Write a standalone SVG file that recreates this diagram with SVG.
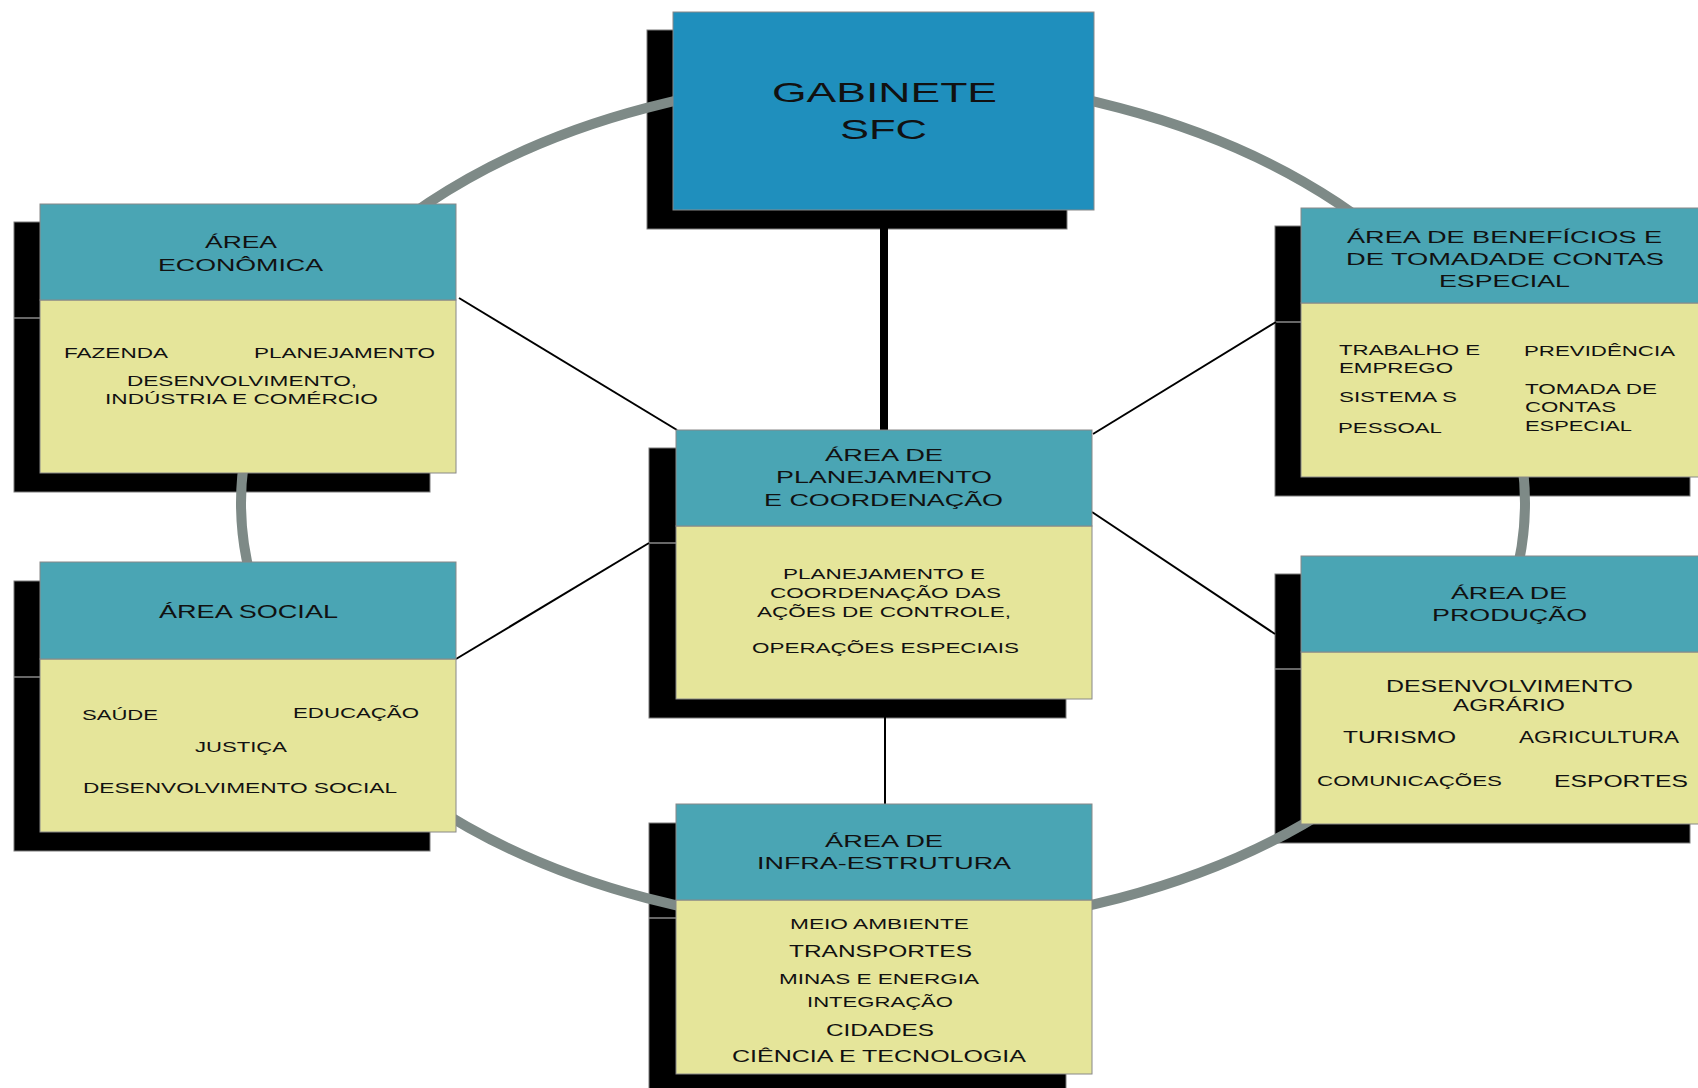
<svg xmlns="http://www.w3.org/2000/svg" width="1698" height="1088" viewBox="0 0 1698 1088">
<style>
.shadow{fill:#000;stroke:#7a7a7a;stroke-width:1}
.head{fill:#4aa5b4;stroke:#888;stroke-width:1}
.body{fill:#e5e59a;stroke:#888;stroke-width:1}
.gab{fill:#1f8fbd;stroke:#888;stroke-width:1}
.sep{stroke:#8a8a8a;stroke-width:1.5}
.conn{stroke:#000;stroke-width:2;fill:none}
.ring{fill:none;stroke:#7e8a87;stroke-width:10}
text{font-family:"Liberation Sans",Arial,sans-serif;fill:#111}
.h{font-size:17px}
.b{font-size:15px}
</style>
<rect width="1698" height="1088" fill="#fff"/>
<g id="shadows">
<rect class="shadow" x="647" y="30" width="420" height="199"/>
<rect class="shadow" x="14" y="222" width="416" height="270"/>
<line class="sep" x1="14" y1="318" x2="40" y2="318"/>
<rect class="shadow" x="14" y="581" width="416" height="270"/>
<line class="sep" x1="14" y1="677" x2="40" y2="677"/>
<rect class="shadow" x="649" y="448" width="417" height="270"/>
<line class="sep" x1="649" y1="543" x2="676" y2="543"/>
<rect class="shadow" x="649" y="823" width="417" height="280"/>
<line class="sep" x1="649" y1="918" x2="676" y2="918"/>
<rect class="shadow" x="1275" y="226" width="415" height="270"/>
<line class="sep" x1="1275" y1="322" x2="1301" y2="322"/>
<rect class="shadow" x="1275" y="574" width="415" height="269"/>
<line class="sep" x1="1275" y1="669" x2="1301" y2="669"/>
</g>
<g id="connectors">
<ellipse class="ring" cx="883" cy="503" rx="642" ry="425"/>
<line x1="884" y1="205" x2="884" y2="432" stroke="#000" stroke-width="8"/>
<line class="conn" x1="885" y1="698" x2="885" y2="806"/>
<line class="conn" x1="459" y1="298" x2="677" y2="430"/>
<line class="conn" x1="456" y1="659" x2="649" y2="543"/>
<line class="conn" x1="1093" y1="434" x2="1276" y2="322"/>
<line class="conn" x1="1092" y1="512" x2="1275" y2="634"/>
</g>
<g id="gabinete">
<rect class="gab" x="673" y="12" width="421" height="198"/>
<text x="772" y="102" font-size="28" textLength="225" lengthAdjust="spacingAndGlyphs">GABINETE</text>
<text x="840" y="139" font-size="28" textLength="87" lengthAdjust="spacingAndGlyphs">SFC</text>
</g>
<g id="area-economica">
<rect class="body" x="40" y="300" width="416" height="173"/>
<rect class="head" x="40" y="204" width="416" height="96"/>
<text class="h" x="205" y="248" textLength="72" lengthAdjust="spacingAndGlyphs">ÁREA</text>
<text class="h" x="158" y="271" textLength="165" lengthAdjust="spacingAndGlyphs">ECONÔMICA</text>
<text class="b" x="64" y="358" textLength="104" lengthAdjust="spacingAndGlyphs">FAZENDA</text>
<text class="b" x="254" y="358" textLength="181" lengthAdjust="spacingAndGlyphs">PLANEJAMENTO</text>
<text class="b" x="127" y="386" textLength="230" lengthAdjust="spacingAndGlyphs">DESENVOLVIMENTO,</text>
<text class="b" x="105" y="404" textLength="273" lengthAdjust="spacingAndGlyphs">INDÚSTRIA E COMÉRCIO</text>
</g>
<g id="area-social">
<rect class="body" x="40" y="659" width="416" height="173"/>
<rect class="head" x="40" y="562" width="416" height="97"/>
<text x="159" y="618" font-size="18" textLength="179" lengthAdjust="spacingAndGlyphs">ÁREA SOCIAL</text>
<text class="b" x="82" y="720" textLength="76" lengthAdjust="spacingAndGlyphs">SAÚDE</text>
<text class="b" x="293" y="718" textLength="126" lengthAdjust="spacingAndGlyphs">EDUCAÇÃO</text>
<text class="b" x="195" y="752" textLength="92" lengthAdjust="spacingAndGlyphs">JUSTIÇA</text>
<text class="b" x="83" y="793" textLength="314" lengthAdjust="spacingAndGlyphs">DESENVOLVIMENTO SOCIAL</text>
</g>
<g id="area-planejamento">
<rect class="body" x="676" y="526" width="416" height="173"/>
<rect class="head" x="676" y="430" width="416" height="96"/>
<text x="825" y="461" font-size="16" textLength="118" lengthAdjust="spacingAndGlyphs">ÁREA DE</text>
<text x="776" y="483" font-size="16" textLength="216" lengthAdjust="spacingAndGlyphs">PLANEJAMENTO</text>
<text x="764" y="506" font-size="16" textLength="239" lengthAdjust="spacingAndGlyphs">E COORDENAÇÃO</text>
<text x="783" y="579" font-size="14" textLength="202" lengthAdjust="spacingAndGlyphs">PLANEJAMENTO E</text>
<text x="770" y="598" font-size="14" textLength="231" lengthAdjust="spacingAndGlyphs">COORDENAÇÃO DAS</text>
<text x="757" y="617" font-size="14" textLength="254" lengthAdjust="spacingAndGlyphs">AÇÕES DE CONTROLE,</text>
<text x="752" y="653" font-size="14" textLength="267" lengthAdjust="spacingAndGlyphs">OPERAÇÕES ESPECIAIS</text>
</g>
<g id="area-infra">
<rect class="body" x="676" y="900" width="416" height="174"/>
<rect class="head" x="676" y="804" width="416" height="96"/>
<text class="h" x="825" y="847" textLength="118" lengthAdjust="spacingAndGlyphs">ÁREA DE</text>
<text class="h" x="757" y="869" textLength="254" lengthAdjust="spacingAndGlyphs">INFRA-ESTRUTURA</text>
<text x="790" y="929" font-size="14" textLength="179" lengthAdjust="spacingAndGlyphs">MEIO AMBIENTE</text>
<text x="789" y="957" font-size="17" textLength="183" lengthAdjust="spacingAndGlyphs">TRANSPORTES</text>
<text x="779" y="984" font-size="15" textLength="200" lengthAdjust="spacingAndGlyphs">MINAS E ENERGIA</text>
<text x="807" y="1007" font-size="15" textLength="146" lengthAdjust="spacingAndGlyphs">INTEGRAÇÃO</text>
<text x="826" y="1036" font-size="17" textLength="108" lengthAdjust="spacingAndGlyphs">CIDADES</text>
<text x="732" y="1062" font-size="17" textLength="294" lengthAdjust="spacingAndGlyphs">CIÊNCIA E TECNOLOGIA</text>
</g>
<g id="area-beneficios">
<rect class="body" x="1301" y="303" width="400" height="174"/>
<rect class="head" x="1301" y="208" width="400" height="95"/>
<text class="h" x="1347" y="243" textLength="315" lengthAdjust="spacingAndGlyphs">ÁREA DE BENEFÍCIOS E</text>
<text class="h" x="1346" y="265" textLength="318" lengthAdjust="spacingAndGlyphs">DE TOMADADE CONTAS</text>
<text class="h" x="1439" y="287" textLength="131" lengthAdjust="spacingAndGlyphs">ESPECIAL</text>
<text class="b" x="1339" y="355" textLength="141" lengthAdjust="spacingAndGlyphs">TRABALHO E</text>
<text class="b" x="1339" y="373" textLength="114" lengthAdjust="spacingAndGlyphs">EMPREGO</text>
<text class="b" x="1339" y="402" textLength="118" lengthAdjust="spacingAndGlyphs">SISTEMA S</text>
<text class="b" x="1338" y="433" textLength="104" lengthAdjust="spacingAndGlyphs">PESSOAL</text>
<text class="b" x="1524" y="356" textLength="151" lengthAdjust="spacingAndGlyphs">PREVIDÊNCIA</text>
<text class="b" x="1525" y="394" textLength="132" lengthAdjust="spacingAndGlyphs">TOMADA DE</text>
<text class="b" x="1525" y="412" textLength="91" lengthAdjust="spacingAndGlyphs">CONTAS</text>
<text class="b" x="1525" y="431" textLength="107" lengthAdjust="spacingAndGlyphs">ESPECIAL</text>
</g>
<g id="area-producao">
<rect class="body" x="1301" y="652" width="400" height="172"/>
<rect class="head" x="1301" y="556" width="400" height="96"/>
<text class="h" x="1451" y="599" textLength="116" lengthAdjust="spacingAndGlyphs">ÁREA DE</text>
<text class="h" x="1432" y="621" textLength="155" lengthAdjust="spacingAndGlyphs">PRODUÇÃO</text>
<text x="1386" y="692" font-size="16" textLength="247" lengthAdjust="spacingAndGlyphs">DESENVOLVIMENTO</text>
<text x="1453" y="711" font-size="16" textLength="112" lengthAdjust="spacingAndGlyphs">AGRÁRIO</text>
<text x="1343" y="743" font-size="16" textLength="113" lengthAdjust="spacingAndGlyphs">TURISMO</text>
<text x="1519" y="743" font-size="16" textLength="160" lengthAdjust="spacingAndGlyphs">AGRICULTURA</text>
<text x="1317" y="786" font-size="15" textLength="185" lengthAdjust="spacingAndGlyphs">COMUNICAÇÕES</text>
<text x="1554" y="787" font-size="16" textLength="134" lengthAdjust="spacingAndGlyphs">ESPORTES</text>
</g>
</svg>
